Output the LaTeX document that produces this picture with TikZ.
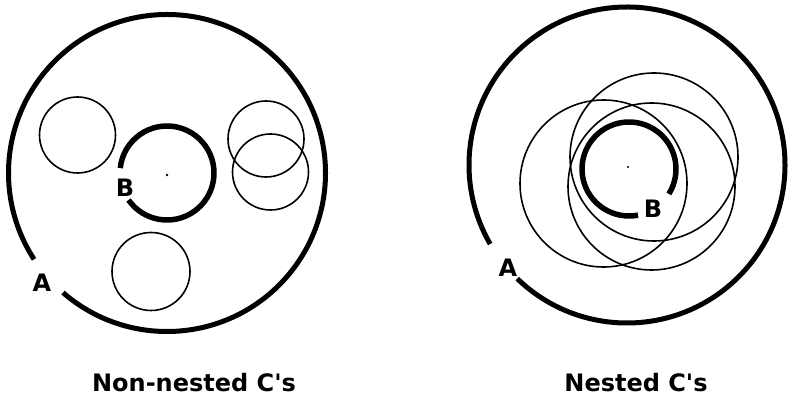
\documentclass[tikz,border=0pt]{standalone}
\usepackage{fontspec}
\newfontfamily\capfont{DejaVu Sans}
\usepackage{tikz}
\tikzset{
  ring/.style={line width=5pt},
  innerarc/.style={line width=5.5pt},
  thinring/.style={line width=1.6pt},
  lbl/.style={font=\capfont\bfseries\fontsize{24}{28}\selectfont,inner sep=0pt}
}

\begin{document}
\begin{tikzpicture}[x=1pt,y=1pt]
  \useasboundingbox (0,0) rectangle (789,398);
  \coordinate (lc) at (167,225);
  \coordinate (rc) at (627,233);
  % non-nested
  \draw[ring] (lc) ++(229:158.5pt) arc[start angle=229,end angle=573,radius=158.5pt];
  \draw[innerarc] (lc) ++(-145:47pt) arc[start angle=-145,end angle=174,radius=47pt];
  \fill (167,223) circle (1.3pt);
  \draw[thinring] (77.5,263) circle (38pt);
  \draw[thinring] (266,259) circle (38pt);
  \draw[thinring] (270.5,226) circle (38pt);
  \draw[thinring] (151,126.5) circle (39pt);
  \node[lbl] (labA1) at (42,115){A};
  \node[lbl] (labB1) at (125,210){B};
  \node[lbl,anchor=base] (cap1) at (194,6){Non-nested C's};
  % nested
  \draw[ring] (rc) ++(226:158pt) arc[start angle=226,end angle=570,radius=158pt];
  \draw[innerarc] (629,229) ++(-32:47pt) arc[start angle=-32,end angle=281,radius=47pt];
  \fill (628,231) circle (1.1pt);
  \draw[thinring] (603.5,214.5) circle (83.5pt);
  \draw[thinring] (654,241) circle (84pt);
  \draw[thinring] (651.5,211.5) circle (83.5pt);
  \node[lbl] (labA2) at (508,130){A};
  \node[lbl] (labB2) at (653,189){B};
  \node[lbl,anchor=base] (cap2) at (636,6){Nested C's};
\end{tikzpicture}
\end{document}
